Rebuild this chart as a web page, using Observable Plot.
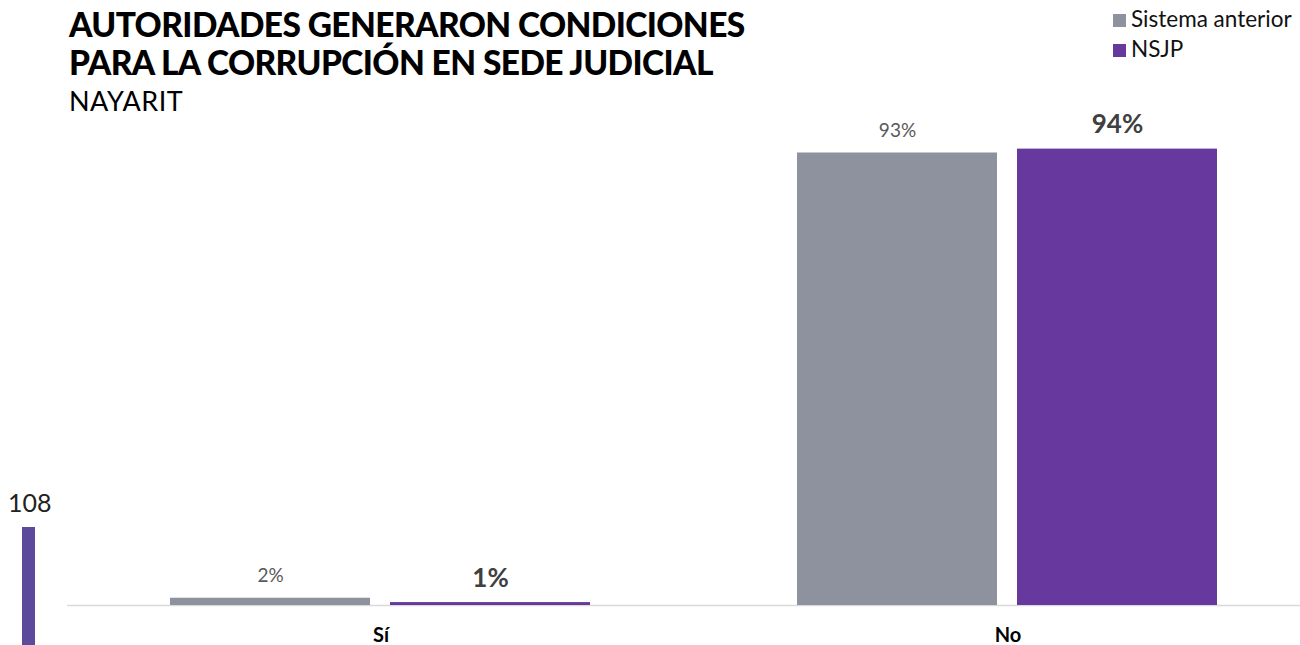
<!DOCTYPE html>
<html>
<head>
<meta charset="utf-8">
<script src="https://cdn.jsdelivr.net/npm/d3@7"></script>
<script src="https://cdn.jsdelivr.net/npm/@observablehq/plot@0.6"></script>
<style>
  html, body { margin: 0; padding: 0; background: #fff; font-family: Lato, "Noto Sans", sans-serif; }
  #wrap { position: relative; width: 1300px; height: 645px; overflow: hidden; }
  #chart { position: absolute; left: 0; top: 0; }
  #title { position: absolute; left: 69px; top: 5px; font-weight: 900; font-size: 33.5px; line-height: 38px; color: #000; letter-spacing: -0.6px; }
  #subtitle { position: absolute; left: 69px; top: 84px; font-size: 27px; color: #000; letter-spacing: 0.5px; }
  #legend { position: absolute; left: 1113px; top: 4px; font-size: 22.5px; color: #111; line-height: 30px; }
  #legend .sw { display: inline-block; width: 13px; height: 13px; margin-right: 5px; vertical-align: 0px; }
  #pagenum { position: absolute; left: 8px; top: 487px; font-size: 25px; color: #222; }
  #pagebar { position: absolute; left: 22px; top: 527px; width: 13px; height: 120px; background: #5E4A9A; }
</style>
</head>
<body>
<div id="wrap">
  <div id="chart"></div>
  <div id="title">AUTORIDADES GENERARON CONDICIONES<br>PARA LA CORRUPCIÓN EN SEDE JUDICIAL</div>
  <div id="subtitle">NAYARIT</div>
  <div id="legend"></div>
  <div id="pagenum">108</div>
  <div id="pagebar"></div>
</div>
<script>
const categories = ["Sí", "No"];
const series = ["Sistema anterior", "NSJP"];
const sistemaAnterior = [1.5, 93.3];
const nsjp = [0.6, 94.1];
const colors = ["#8E919E", "#67389E"];

const data = categories.flatMap((c, i) => [
  {cat: c, serie: series[0], value: sistemaAnterior[i]},
  {cat: c, serie: series[1], value: nsjp[i]}
]);

const chart = Plot.plot({
  width: 1300,
  height: 645,
  marginLeft: 66,
  marginRight: -21,
  marginTop: 120,
  marginBottom: 40,
  style: {fontFamily: "Lato, sans-serif", background: "transparent"},
  fx: {domain: categories, padding: 0, label: null},
  x: {domain: series, paddingInner: 0.0905, paddingOuter: 0.464, axis: null},
  y: {domain: [0, 100], axis: null},
  color: {domain: series, range: colors},
  marks: [
    Plot.axisFx({anchor: "bottom", tickSize: 0, tickPadding: 22.5, fontSize: 20, fontWeight: "bold", fill: "#000", label: null}),
    Plot.ruleY([0], {stroke: "#d9d9d9", strokeWidth: 1.5}),
    Plot.barY(data, {fx: "cat", x: "serie", y: "value", fill: "serie", inset: 0}),
    Plot.text(data.filter(d => d.serie === series[0]), {
      fx: "cat", x: "serie", y: "value", text: d => Math.round(d.value) + "%",
      lineAnchor: "bottom", dy: -16, fontSize: 19, fill: "#595959", style: "letter-spacing:2px"
    }),
    Plot.text(data.filter(d => d.serie === series[1]), {
      fx: "cat", x: "serie", y: "value", text: d => Math.round(d.value) + "%",
      lineAnchor: "bottom", dy: -16, fontSize: 26, fontWeight: "bold", fill: "#404040"
    })
  ]
});
document.getElementById("chart").appendChild(chart);

const legend = document.getElementById("legend");
series.forEach((s, i) => {
  const row = document.createElement("div");
  row.innerHTML = `<span class="sw" style="background:${colors[i]}"></span>${s}`;
  legend.appendChild(row);
});
</script>
</body>
</html>
